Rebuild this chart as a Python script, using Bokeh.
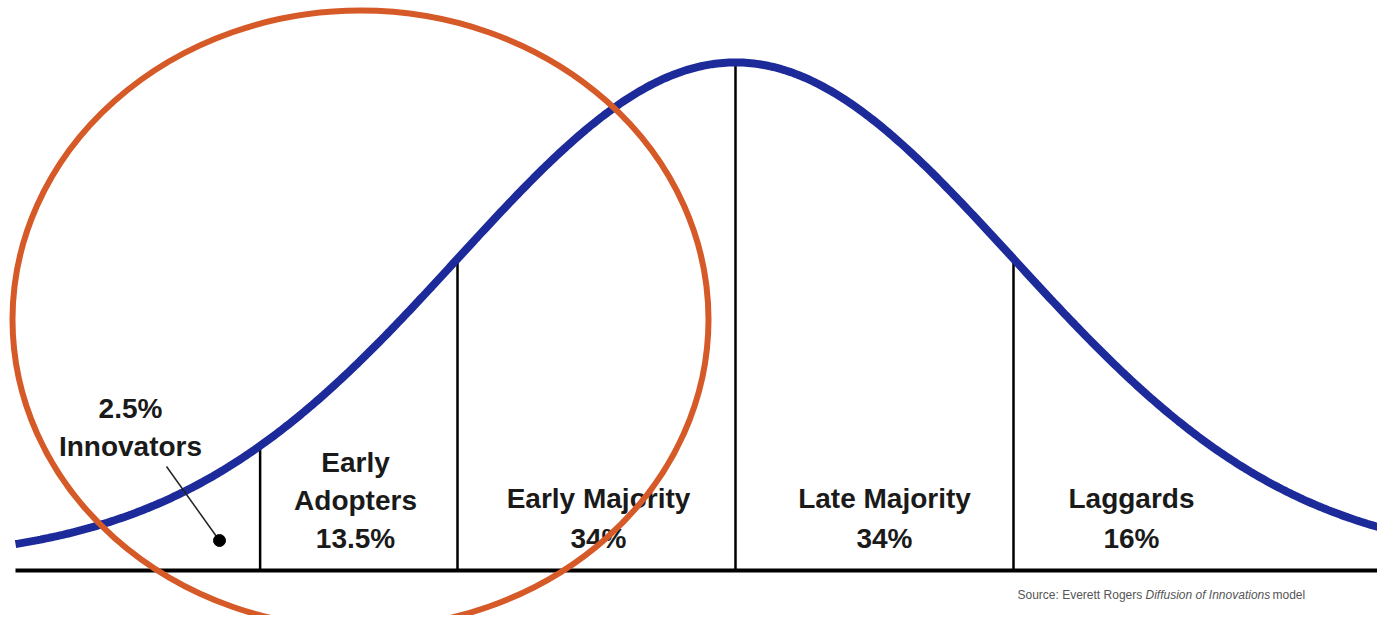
import numpy as np
from bokeh.plotting import figure
from bokeh.models import Range1d
from bokeh.core.properties import value
from bokeh.embed import file_html
from bokeh.resources import INLINE

# ---- data ----
segments = ["Innovators", "Early Adopters", "Early Majority", "Late Majority", "Laggards"]
shares = [2.5, 13.5, 34, 34, 16]
boundaries = [-1.71, -1.0, 0.0, 1.0]          # segment borders, in standard deviations
curve_floor = 0.0072                           # curve's lift above the axis line
source_parts = ["Source: Everett Rogers", "Diffusion of Innovations", "model"]

# ---- layout helpers (picture pixels -> data) ----
MEAN_PX, SIGMA_PX, BASE_PY, UNIT_PY = 735.0, 278.0, 570.0, 1251.0
W, H = 1377, 615
def X(px):
    return (px - MEAN_PX) / SIGMA_PX
def Y(py):
    return (BASE_PY - py) / UNIT_PY

def bell(z):
    return curve_floor + np.exp(-0.5 * np.asarray(z) ** 2) / np.sqrt(2 * np.pi)

p = figure(width=W, height=H, output_backend="svg", toolbar_location=None,
           x_range=Range1d(X(0), X(W)), y_range=Range1d(Y(H), Y(0)),
           x_axis_location=None, y_axis_location=None, min_border=0)
p.grid.visible = False
p.outline_line_color = None
p.background_fill_color = "white"
p.border_fill_color = "white"

BLUE = "#1c2a9a"
FONT = value("Liberation Sans")

# baseline
p.segment(x0=[X(15)], y0=[0], x1=[X(1400)], y1=[0], line_color="black", line_width=4)

# segment borders
tops = bell(boundaries)
p.segment(x0=boundaries, y0=[0] * len(boundaries), x1=boundaries, y1=list(tops),
          line_color="black", line_width=2.5)

# bell curve
z = np.linspace(X(15), X(1400), 500)
p.line(z, bell(z), line_color=BLUE, line_width=8)

# labels
pct = [f"{s:g}%" for s in shares]
label_lines = [
    ([pct[0], segments[0]], 130, [408, 446]),
    (["Early", "Adopters", pct[1]], 355, [462, 500, 538]),
    ([segments[2], pct[2]], 598, [498, 538]),
    ([segments[3], pct[3]], 884, [498, 538]),
    ([segments[4], pct[4]], 1131, [498, 538]),
]
for lines, cx, ys in label_lines:
    p.text(x=[X(cx)] * len(lines), y=[Y(v) for v in ys], text=lines,
           text_font=FONT, text_font_style="bold", text_font_size="28px",
           text_color="#1a1a1a", text_align="center", text_baseline="middle")

# innovators pointer
p.segment(x0=[X(166)], y0=[Y(466)], x1=[X(216)], y1=[Y(536)], line_color="#222222", line_width=1.5)
p.scatter(x=[X(219)], y=[Y(540)], size=12, fill_color="black", line_color="black")

# source note
p.text(x=[X(1017)], y=[Y(594)], text=[source_parts[0]], text_font=FONT, text_font_size="12px",
       text_color="#555555", text_align="left", text_baseline="middle")
p.text(x=[X(1145)], y=[Y(594)], text=[source_parts[1]], text_font=FONT, text_font_size="12px",
       text_font_style="italic", text_color="#555555", text_align="left", text_baseline="middle")
p.text(x=[X(1272)], y=[Y(594)], text=[source_parts[2]], text_font=FONT, text_font_size="12px",
       text_color="#555555", text_align="left", text_baseline="middle")

# highlight ellipse
p.ellipse(x=[X(360)], y=[Y(319)], width=[696 / SIGMA_PX], height=[618 / UNIT_PY],
          fill_color=None, line_color="#d65a28", line_width=6)

open("out.html", "w").write(file_html(p, INLINE))
